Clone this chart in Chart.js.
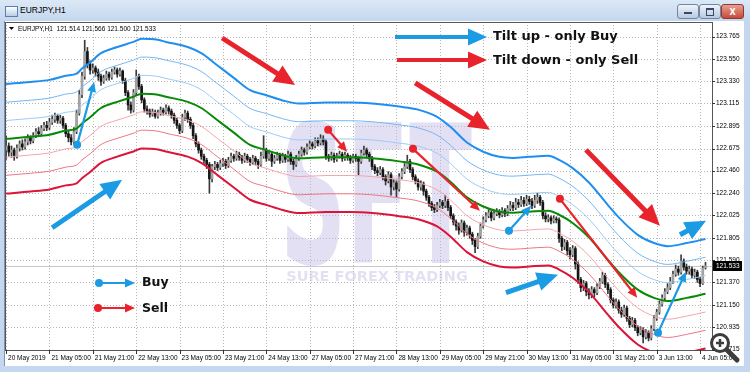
<!DOCTYPE html>
<html>
<head>
<meta charset="utf-8">
<title>EURJPY,H1</title>
<script src="https://cdn.jsdelivr.net/npm/chart.js@4.4.0/dist/chart.umd.min.js"></script>
<style>
  html, body { margin: 0; padding: 0; background: #fff; }
  #win { position: relative; width: 750px; height: 372px; overflow: hidden; background: #c4d7ee; font-family: "Liberation Sans", Arial, sans-serif; }
  #titlebar { position: absolute; left: 0; top: 0; width: 750px; height: 21px; background: linear-gradient(#dce8f6, #c4d7ee); }
  #titlebar .icon { position: absolute; left: 5px; top: 6px; width: 11px; height: 9px; border: 1px solid #5a7fae; background: linear-gradient(#ffffff, #b8cde8); }
  #titlebar .caption { position: absolute; left: 20px; top: 5px; font-size: 8.5px; color: #000; }
  .btn { position: absolute; top: 4px; height: 13px; border: 1px solid #6f86a6; border-radius: 3px; background: linear-gradient(#eef3fa, #b9c9df); }
  .btn.min { left: 677px; width: 20px; }
  .btn.max { left: 699px; width: 20px; }
  .btn.close { left: 721px; width: 21px; background: linear-gradient(#e8a090, #c74a3a); border-color: #8d3a30; }
  .btn span { position: absolute; left: 50%; top: 50%; transform: translate(-50%, -50%); color: #fff; font: bold 8px "DejaVu Sans", sans-serif; }
  .btn.min i { position: absolute; left: 6px; top: 7px; width: 8px; height: 2px; background: #34496a; }
  .btn.max i { position: absolute; left: 6px; top: 3px; width: 6px; height: 5px; border: 1px solid #34496a; border-top-width: 2px; }
  #client { position: absolute; left: 4px; top: 21px; width: 739px; height: 345px; background: #fff; border-left: 1px solid #7d93b0; }
  #chart { position: absolute; left: 0; top: 0; }
  #zoomicon { position: absolute; left: 708px; top: 331px; }
</style>
</head>
<body>
<div id="win">
  <div id="titlebar">
    <div class="icon"></div>
    <div class="caption">EURJPY,H1</div>
    <div class="btn min"><i></i></div>
    <div class="btn max"><i></i></div>
    <div class="btn close"><span>X</span></div>
  </div>
  <div id="client"></div>
  <canvas id="chart" width="750" height="372"></canvas>
  <svg id="zoomicon" width="34" height="34" viewBox="0 0 34 34">
    <line x1="18" y1="18" x2="29" y2="29" stroke="#3c3c3c" stroke-width="5" stroke-linecap="round"/>
    <circle cx="12" cy="12" r="8.5" fill="#fff" stroke="#3c3c3c" stroke-width="3"/>
    <line x1="8" y1="12" x2="16" y2="12" stroke="#3c3c3c" stroke-width="2.5"/>
    <line x1="12" y1="8" x2="12" y2="16" stroke="#3c3c3c" stroke-width="2.5"/>
  </svg>
</div>

<script>
// ---- DATA (EURJPY H1, one entry per bar) ----
const opens = [
  122.66,122.70,122.64,122.66,122.60,122.68,122.72,122.69,122.74,122.78,
  122.75,122.80,122.84,122.82,122.87,122.90,122.88,122.93,122.96,122.99,
  122.95,122.97,122.90,122.82,122.78,122.74,122.84,123.02,123.20,123.38,
  123.62,123.50,123.44,123.46,123.42,123.38,123.33,123.36,123.40,123.37,
  123.42,123.44,123.40,123.43,123.34,123.22,123.10,123.05,123.22,123.38,
  123.28,123.15,123.06,123.04,123.01,123.03,122.99,123.02,123.05,123.03,
  123.07,123.04,123.00,122.95,122.90,122.85,122.98,123.02,122.96,122.90,
  122.80,122.72,122.66,122.60,122.56,122.52,122.38,122.50,122.52,122.49,
  122.53,122.55,122.51,122.56,122.60,122.58,122.62,122.59,122.56,122.60,
  122.57,122.54,122.58,122.55,122.52,122.60,122.66,122.58,122.62,122.55,
  122.58,122.61,122.56,122.60,122.57,122.62,122.55,122.52,122.58,122.62,
  122.66,122.64,122.69,122.72,122.70,122.75,122.73,122.77,122.74,122.60,
  122.58,122.61,122.57,122.60,122.62,122.58,122.61,122.59,122.56,122.60,
  122.58,122.55,122.63,122.66,122.62,122.58,122.50,122.46,122.44,122.47,
  122.40,122.36,122.42,122.30,122.34,122.28,122.40,122.45,122.50,122.55,
  122.47,122.40,122.36,122.30,122.33,122.26,122.20,122.14,122.10,122.08,
  122.12,122.15,122.12,122.16,122.10,122.02,121.96,121.92,121.88,121.95,
  121.86,121.90,121.84,121.78,121.72,121.82,121.92,121.98,122.02,122.05,
  122.00,122.04,122.06,122.03,122.07,122.04,122.09,122.12,122.10,122.15,
  122.13,122.17,122.14,122.18,122.16,122.12,122.17,122.20,122.15,122.02,
  121.99,122.00,121.97,121.99,121.98,121.80,121.72,121.76,121.68,121.64,
  121.70,121.55,121.40,121.32,121.36,121.28,121.25,121.30,121.27,121.33,
  121.38,121.44,121.35,121.30,121.20,121.15,121.18,121.10,121.06,121.12,
  121.02,120.96,121.00,120.93,120.88,120.91,120.84,120.88,120.83,120.92,
  121.02,121.08,121.16,121.22,121.28,121.32,121.38,121.45,121.50,121.47,
  121.58,121.52,121.48,121.50,121.44,121.47,121.40,121.36,121.514
];
const highs = [
  122.80,122.73,122.70,122.68,122.71,122.75,122.76,122.77,122.81,122.80,
  122.83,122.87,122.88,122.90,122.93,122.94,122.97,123.00,123.02,123.01,
  123.00,122.99,122.92,122.85,122.81,122.88,123.05,123.24,123.42,123.73,
  123.66,123.53,123.50,123.48,123.45,123.40,123.39,123.43,123.42,123.45,
  123.47,123.46,123.46,123.44,123.36,123.24,123.13,123.25,123.44,123.40,
  123.30,123.17,123.09,123.06,123.06,123.05,123.05,123.08,123.07,123.10,
  123.09,123.06,123.02,122.97,122.92,123.01,123.05,123.04,122.98,122.92,
  122.82,122.74,122.68,122.62,122.58,122.54,122.52,122.55,122.54,122.56,
  122.58,122.57,122.59,122.63,122.62,122.65,122.64,122.61,122.63,122.62,
  122.59,122.61,122.60,122.57,122.64,122.80,122.68,122.65,122.64,122.61,
  122.64,122.63,122.63,122.62,122.65,122.64,122.57,122.61,122.65,122.69,
  122.68,122.72,122.75,122.74,122.78,122.78,122.81,122.80,122.76,122.62,
  122.64,122.63,122.63,122.65,122.64,122.64,122.63,122.61,122.62,122.62,
  122.60,122.66,122.70,122.68,122.64,122.60,122.52,122.49,122.50,122.49,
  122.42,122.45,122.44,122.37,122.36,122.43,122.48,122.53,122.61,122.57,
  122.49,122.42,122.38,122.36,122.35,122.28,122.22,122.16,122.13,122.15,
  122.18,122.17,122.22,122.18,122.12,122.04,121.98,121.95,121.98,121.97,
  121.93,121.92,121.86,121.80,121.85,121.95,122.01,122.05,122.08,122.07,
  122.07,122.09,122.08,122.10,122.09,122.12,122.16,122.15,122.19,122.18,
  122.21,122.20,122.22,122.21,122.19,122.22,122.24,122.22,122.17,122.05,
  122.03,122.02,122.02,122.01,122.00,121.82,121.79,121.78,121.71,121.73,
  121.72,121.57,121.42,121.39,121.38,121.31,121.33,121.32,121.36,121.41,
  121.47,121.46,121.37,121.32,121.22,121.21,121.20,121.13,121.15,121.14,
  121.04,121.03,121.02,120.95,120.94,120.93,120.91,120.90,120.95,121.05,
  121.11,121.19,121.25,121.31,121.36,121.42,121.48,121.54,121.53,121.64,
  121.60,121.55,121.53,121.52,121.50,121.49,121.42,121.53,121.566
];
const lows = [
  122.57,122.60,122.59,122.56,122.58,122.65,122.66,122.67,122.71,122.72,
  122.73,122.78,122.79,122.80,122.85,122.85,122.86,122.91,122.93,122.92,
  122.92,122.87,122.79,122.74,122.71,122.72,122.82,123.00,123.17,123.35,
  123.46,123.40,123.41,123.38,123.34,123.29,123.31,123.34,123.34,123.35,
  123.40,123.37,123.38,123.31,123.19,123.05,123.02,123.03,123.20,123.25,
  123.12,123.03,123.01,122.98,122.99,122.97,122.97,123.00,123.00,123.01,
  123.01,122.97,122.92,122.87,122.82,122.83,122.95,122.93,122.87,122.77,
  122.69,122.63,122.57,122.53,122.48,122.24,122.35,122.47,122.46,122.47,
  122.50,122.48,122.49,122.54,122.55,122.56,122.56,122.53,122.54,122.54,
  122.51,122.52,122.52,122.48,122.50,122.58,122.55,122.56,122.50,122.53,
  122.56,122.53,122.54,122.54,122.55,122.52,122.47,122.50,122.56,122.60,
  122.61,122.62,122.67,122.67,122.68,122.70,122.71,122.71,122.57,122.55,
  122.56,122.54,122.55,122.58,122.55,122.56,122.56,122.53,122.54,122.55,
  122.42,122.53,122.61,122.59,122.55,122.47,122.43,122.41,122.42,122.37,
  122.32,122.34,122.22,122.27,122.20,122.26,122.38,122.43,122.48,122.44,
  122.37,122.33,122.27,122.27,122.22,122.17,122.11,122.07,122.05,122.06,
  122.10,122.09,122.10,122.07,121.99,121.93,121.88,121.84,121.86,121.82,
  121.83,121.80,121.74,121.66,121.70,121.80,121.90,121.96,122.00,121.97,
  121.98,122.02,122.00,122.01,122.01,122.02,122.07,122.07,122.08,122.10,
  122.11,122.11,122.12,122.13,122.09,122.10,122.14,122.12,121.99,121.96,
  121.96,121.94,121.95,121.95,121.76,121.68,121.69,121.64,121.60,121.62,
  121.50,121.36,121.28,121.29,121.24,121.21,121.22,121.23,121.25,121.31,
  121.36,121.32,121.26,121.17,121.12,121.12,121.07,121.03,121.04,120.99,
  120.93,120.94,120.90,120.85,120.86,120.78,120.82,120.80,120.81,120.90,
  121.00,121.06,121.14,121.20,121.26,121.30,121.36,121.43,121.44,121.45,
  121.49,121.45,121.45,121.41,121.41,121.37,121.33,121.35,121.500
];
const closes = [
  122.70,122.64,122.66,122.60,122.68,122.72,122.69,122.74,122.78,122.75,
  122.80,122.84,122.82,122.87,122.90,122.88,122.93,122.96,122.99,122.95,
  122.97,122.90,122.82,122.78,122.74,122.84,123.02,123.20,123.38,123.62,
  123.50,123.44,123.46,123.42,123.38,123.33,123.36,123.40,123.37,123.42,
  123.44,123.40,123.43,123.34,123.22,123.10,123.05,123.22,123.38,123.28,
  123.15,123.06,123.04,123.01,123.03,122.99,123.02,123.05,123.03,123.07,
  123.04,123.00,122.95,122.90,122.85,122.98,123.02,122.96,122.90,122.80,
  122.72,122.66,122.60,122.56,122.52,122.38,122.50,122.52,122.49,122.53,
  122.55,122.51,122.56,122.60,122.58,122.62,122.59,122.56,122.60,122.57,
  122.54,122.58,122.55,122.52,122.60,122.66,122.58,122.62,122.55,122.58,
  122.61,122.56,122.60,122.57,122.62,122.55,122.52,122.58,122.62,122.66,
  122.64,122.69,122.72,122.70,122.75,122.73,122.77,122.74,122.60,122.58,
  122.61,122.57,122.60,122.62,122.58,122.61,122.59,122.56,122.60,122.58,
  122.55,122.63,122.66,122.62,122.58,122.50,122.46,122.44,122.47,122.40,
  122.36,122.42,122.30,122.34,122.28,122.40,122.45,122.50,122.55,122.47,
  122.40,122.36,122.30,122.33,122.26,122.20,122.14,122.10,122.08,122.12,
  122.15,122.12,122.16,122.10,122.02,121.96,121.92,121.88,121.95,121.86,
  121.90,121.84,121.78,121.72,121.82,121.92,121.98,122.02,122.05,122.00,
  122.04,122.06,122.03,122.07,122.04,122.09,122.12,122.10,122.15,122.13,
  122.17,122.14,122.18,122.16,122.12,122.17,122.20,122.15,122.02,121.99,
  122.00,121.97,121.99,121.98,121.80,121.72,121.76,121.68,121.64,121.70,
  121.55,121.40,121.32,121.36,121.28,121.25,121.30,121.27,121.33,121.38,
  121.44,121.35,121.30,121.20,121.15,121.18,121.10,121.06,121.12,121.02,
  120.96,121.00,120.93,120.88,120.91,120.84,120.88,120.83,120.92,121.02,
  121.08,121.16,121.22,121.28,121.32,121.38,121.45,121.50,121.47,121.58,
  121.52,121.48,121.50,121.44,121.47,121.40,121.36,121.51,121.533
];

// moving average (green) read at these bar numbers; envelopes sit at fixed distances
const maBars = [0,9,16,22,26,28,31,35,41,47,50,56,59,67,72,78,84,90,96,102,108,118,127,135,145,152,159,164,170,176,182,187,193,200,204,209,215,222,226,233,239,244,251,258];
const maValues = [122.77,122.79,122.81,122.85,122.87,122.92,122.98,123.07,123.13,123.18,123.21,123.20,123.18,123.13,123.07,122.95,122.83,122.71,122.66,122.61,122.58,122.59,122.59,122.58,122.55,122.52,122.45,122.35,122.20,122.11,122.06,122.05,122.06,122.07,122.03,121.95,121.81,121.59,121.47,121.30,121.22,121.19,121.22,121.26];
const envelopeOffsets = [0.178, 0.356, 0.534];

// axis ticks
const xTickBars = [0,16,32,48,64,80,96,112,128,144,160,176,192,208,224,240,256];
const xTickLabels = ['20 May 2019','21 May 05:00','21 May 21:00','22 May 13:00','23 May 05:00','23 May 21:00','24 May 13:00','27 May 05:00','27 May 21:00','28 May 13:00','29 May 05:00','29 May 21:00','30 May 13:00','31 May 05:00','31 May 21:00','3 Jun 13:00','4 Jun 05:00'];
const yTickValues = [123.765,123.550,123.330,123.115,122.895,122.675,122.460,122.240,122.025,121.805,121.590,121.370,121.150,120.935,120.715];

// annotations, in [bar, price]
const bigArrows = [
  { from: [79.7, 123.752], to: [106.6, 123.295], color: '#e8232b' },
  { from: [150.9, 123.314], to: [178.5, 122.857], color: '#e8232b' },
  { from: [213.9, 122.662], to: [241.2, 121.923], color: '#e8232b' },
  { from: [17.0, 121.903], to: [42.8, 122.370], color: '#1b9be3' },
  { from: [184.4, 121.271], to: [203.6, 121.446], color: '#1b9be3' },
  { from: [248.6, 121.835], to: [258.2, 121.971], color: '#1b9be3' }
];
const signalArrows = [
  { from: [26.2, 122.711], to: [32.5, 123.324], color: '#1b9be3' },
  { from: [185.5, 121.874], to: [193.7, 122.117], color: '#1b9be3' },
  { from: [240.5, 120.881], to: [250.8, 121.475], color: '#1b9be3' },
  { from: [118.8, 122.857], to: [125.8, 122.643], color: '#e8232b' },
  { from: [150.1, 122.672], to: [174.8, 122.069], color: '#e8232b' },
  { from: [204.3, 122.185], to: [232.8, 121.222], color: '#e8232b' }
];

const BLUE = '#1b9be3', RED = '#e8232b';

function blockArrow(ctx, x1, y1, x2, y2, shaft, headLen, headW, color) {
  const ang = Math.atan2(y2 - y1, x2 - x1);
  const len = Math.hypot(x2 - x1, y2 - y1);
  ctx.save();
  ctx.translate(x1, y1);
  ctx.rotate(ang);
  ctx.fillStyle = color;
  ctx.beginPath();
  ctx.moveTo(0, -shaft / 2);
  ctx.lineTo(len - headLen, -shaft / 2);
  ctx.lineTo(len - headLen, -headW / 2);
  ctx.lineTo(len, 0);
  ctx.lineTo(len - headLen, headW / 2);
  ctx.lineTo(len - headLen, shaft / 2);
  ctx.lineTo(0, shaft / 2);
  ctx.closePath();
  ctx.fill();
  ctx.restore();
}

function dotArrow(ctx, x1, y1, x2, y2, color) {
  blockArrow(ctx, x1, y1, x2, y2, 2.2, 10, 9, color);
  ctx.fillStyle = color;
  ctx.beginPath();
  ctx.arc(x1, y1, 4, 0, Math.PI * 2);
  ctx.fill();
}

const decor = {
  id: 'decor',
  beforeDatasetsDraw(chart) {
    const { ctx, chartArea: a, scales: { x, y } } = chart;
    ctx.save();
    // dotted grid, like the terminal draws it
    ctx.strokeStyle = '#b8b8b8';
    ctx.lineWidth = 1;
    ctx.setLineDash([1, 2]);
    ctx.beginPath();
    xTickBars.forEach(b => {
      const gx = Math.round(x.getPixelForValue(b)) + 0.5;
      ctx.moveTo(gx, a.top);
      ctx.lineTo(gx, a.bottom);
    });
    yTickValues.forEach(v => {
      const gy = Math.round(y.getPixelForValue(v)) + 0.5;
      if (gy > a.bottom - 1) return;
      ctx.moveTo(a.left, gy);
      ctx.lineTo(a.right, gy);
    });
    ctx.stroke();
    ctx.setLineDash([]);

    // watermark (tall letters)
    ctx.fillStyle = 'rgba(190, 180, 228, 0.42)';
    ctx.textAlign = 'center';
    ctx.textBaseline = 'alphabetic';
    ctx.save();
    ctx.translate(376, 263);
    ctx.scale(1, 2.1);
    ctx.font = 'bold 92px "DejaVu Sans", sans-serif';
    ctx.fillText('SFT', 0, 0);
    ctx.restore();
    ctx.font = 'bold 14.5px "DejaVu Sans", sans-serif';
    ctx.fillText('SURE FOREX TRADING', 377, 281);

    // bid line
    const py = Math.round(y.getPixelForValue(closes[closes.length - 1])) + 0.5;
    ctx.strokeStyle = '#c8c8c8';
    ctx.beginPath();
    ctx.moveTo(a.left, py);
    ctx.lineTo(a.right, py);
    ctx.stroke();
    ctx.restore();
  },
  afterDatasetsDraw(chart) {
    const { ctx, chartArea: a, scales: { x, y } } = chart;
    const px = p => [x.getPixelForValue(p[0]), y.getPixelForValue(p[1])];
    ctx.save();
    bigArrows.forEach(ar => {
      const [x1, y1] = px(ar.from), [x2, y2] = px(ar.to);
      blockArrow(ctx, x1, y1, x2, y2, 5, 21, 19, ar.color);
    });
    signalArrows.forEach(ar => {
      const [x1, y1] = px(ar.from), [x2, y2] = px(ar.to);
      dotArrow(ctx, x1, y1, x2, y2, ar.color);
    });

    // tilt legend (top)
    blockArrow(ctx, a.left + 390, 37, a.left + 482, 37, 4, 19, 17, BLUE);
    blockArrow(ctx, a.left + 392, 60, a.left + 482, 60, 4, 19, 17, RED);
    ctx.fillStyle = '#111';
    ctx.textAlign = 'left';
    ctx.textBaseline = 'middle';
    ctx.font = 'bold 13px "DejaVu Sans", sans-serif';
    ctx.fillText('Tilt up - only Buy', a.left + 488, 37);
    ctx.fillText('Tilt down - only Sell', a.left + 488, 61);

    // buy / sell legend (bottom left)
    dotArrow(ctx, a.left + 94, 283, a.left + 130, 283, BLUE);
    dotArrow(ctx, a.left + 93, 308, a.left + 130, 308, RED);
    ctx.fillStyle = '#111';
    ctx.font = 'bold 12.5px "DejaVu Sans", sans-serif';
    ctx.fillText('Buy', a.left + 137, 283);
    ctx.fillText('Sell', a.left + 137, 309);

    // header
    ctx.fillStyle = '#000';
    ctx.beginPath();
    ctx.moveTo(a.left + 4, 27);
    ctx.lineTo(a.left + 9, 27);
    ctx.lineTo(a.left + 6.5, 30);
    ctx.closePath();
    ctx.fill();
    ctx.font = '6.5px "Liberation Sans", Arial, sans-serif';
    ctx.textBaseline = 'middle';
    ctx.fillText('EURJPY,H1  121.514 121.566 121.500 121.533', a.left + 13, 29);
    ctx.restore();
  },
  afterDraw(chart) {
    const { ctx, chartArea: a, scales: { x, y } } = chart;
    ctx.save();
    ctx.strokeStyle = '#555';
    ctx.lineWidth = 1;
    ctx.strokeRect(Math.round(a.left) + 0.5, Math.round(a.top) + 0.5, Math.round(a.right - a.left), Math.round(a.bottom - a.top));
    // tick marks outside the frame
    ctx.strokeStyle = '#333';
    ctx.beginPath();
    xTickBars.forEach(b => {
      const gx = Math.round(x.getPixelForValue(b)) + 0.5;
      ctx.moveTo(gx, a.bottom);
      ctx.lineTo(gx, a.bottom + 4);
    });
    yTickValues.forEach(v => {
      const gy = Math.round(y.getPixelForValue(v)) + 0.5;
      ctx.moveTo(a.right, gy);
      ctx.lineTo(a.right + 3, gy);
    });
    ctx.stroke();
    // last price tag
    const last = closes[closes.length - 1];
    const py = Math.round(y.getPixelForValue(last));
    ctx.fillStyle = '#000';
    ctx.fillRect(a.right + 1, py - 5, 29, 10);
    ctx.fillStyle = '#fff';
    ctx.font = '6.5px "Liberation Sans", Arial, sans-serif';
    ctx.textAlign = 'left';
    ctx.textBaseline = 'middle';
    ctx.fillText(last.toFixed(3), a.right + 4, py + 0.5);
    ctx.restore();
  }
};

// datasets
const wickData = closes.map((c, i) => ({ x: i, y: [lows[i], highs[i]] }));
const bodyData = closes.map((c, i) => ({ x: i, y: [opens[i], c] }));
const bodyColors = closes.map((c, i) => (c >= opens[i] ? '#a2a2a2' : '#141414'));

function bandLine(offset, color, width) {
  return {
    type: 'line',
    data: maBars.map((b, k) => ({ x: b, y: maValues[k] + offset })),
    borderColor: color,
    borderWidth: width,
    pointRadius: 0,
    cubicInterpolationMode: 'monotone',
    fill: false,
    order: 0
  };
}

new Chart(document.getElementById('chart'), {
  type: 'bar',
  data: {
    datasets: [
      bandLine(envelopeOffsets[2], '#1e8ff0', 2),
      bandLine(envelopeOffsets[1], '#74b6f4', 1),
      bandLine(envelopeOffsets[0], '#9ccbf6', 1),
      bandLine(0, '#078a07', 2),
      bandLine(-envelopeOffsets[0], '#f4a4ad', 1),
      bandLine(-envelopeOffsets[1], '#ef7585', 1),
      bandLine(-envelopeOffsets[2], '#dc1438', 2),
      { type: 'bar', data: bodyData, backgroundColor: bodyColors, barThickness: 2, minBarLength: 1, grouped: false, order: 1 },
      { type: 'bar', data: wickData, backgroundColor: '#3a3a3a', barThickness: 1, grouped: false, order: 2 }
    ]
  },
  options: {
    responsive: false,
    animation: false,
    events: [],
    layout: { padding: { left: 5, top: 22, right: 0, bottom: 0 } },
    plugins: { legend: { display: false }, tooltip: { enabled: false } },
    scales: {
      x: {
        type: 'linear',
        min: -0.4,
        max: 260.4,
        offset: false,
        afterFit: s => { s.height = 22; },
        afterBuildTicks: s => { s.ticks = xTickBars.map(v => ({ value: v })); },
        grid: { drawOnChartArea: false, drawTicks: false },
        border: { display: false },
        ticks: {
          autoSkip: false,
          maxRotation: 0,
          align: 'start',
          labelOffset: 2,
          padding: 4,
          color: '#000',
          font: { family: '"Liberation Sans", Arial, sans-serif', size: 6.5 },
          callback: v => { const k = xTickBars.indexOf(v); return k >= 0 ? xTickLabels[k] : ''; }
        }
      },
      y: {
        type: 'linear',
        position: 'right',
        min: 120.712,
        max: 123.908,
        afterFit: s => { s.width = 38; },
        afterBuildTicks: s => { s.ticks = yTickValues.map(v => ({ value: v })); },
        grid: { drawOnChartArea: false, drawTicks: false },
        border: { display: false },
        ticks: {
          padding: 4,
          color: '#000',
          font: { family: '"Liberation Sans", Arial, sans-serif', size: 6.5 },
          callback: v => v.toFixed(3)
        }
      }
    }
  },
  plugins: [decor]
});
</script>
</body>
</html>
